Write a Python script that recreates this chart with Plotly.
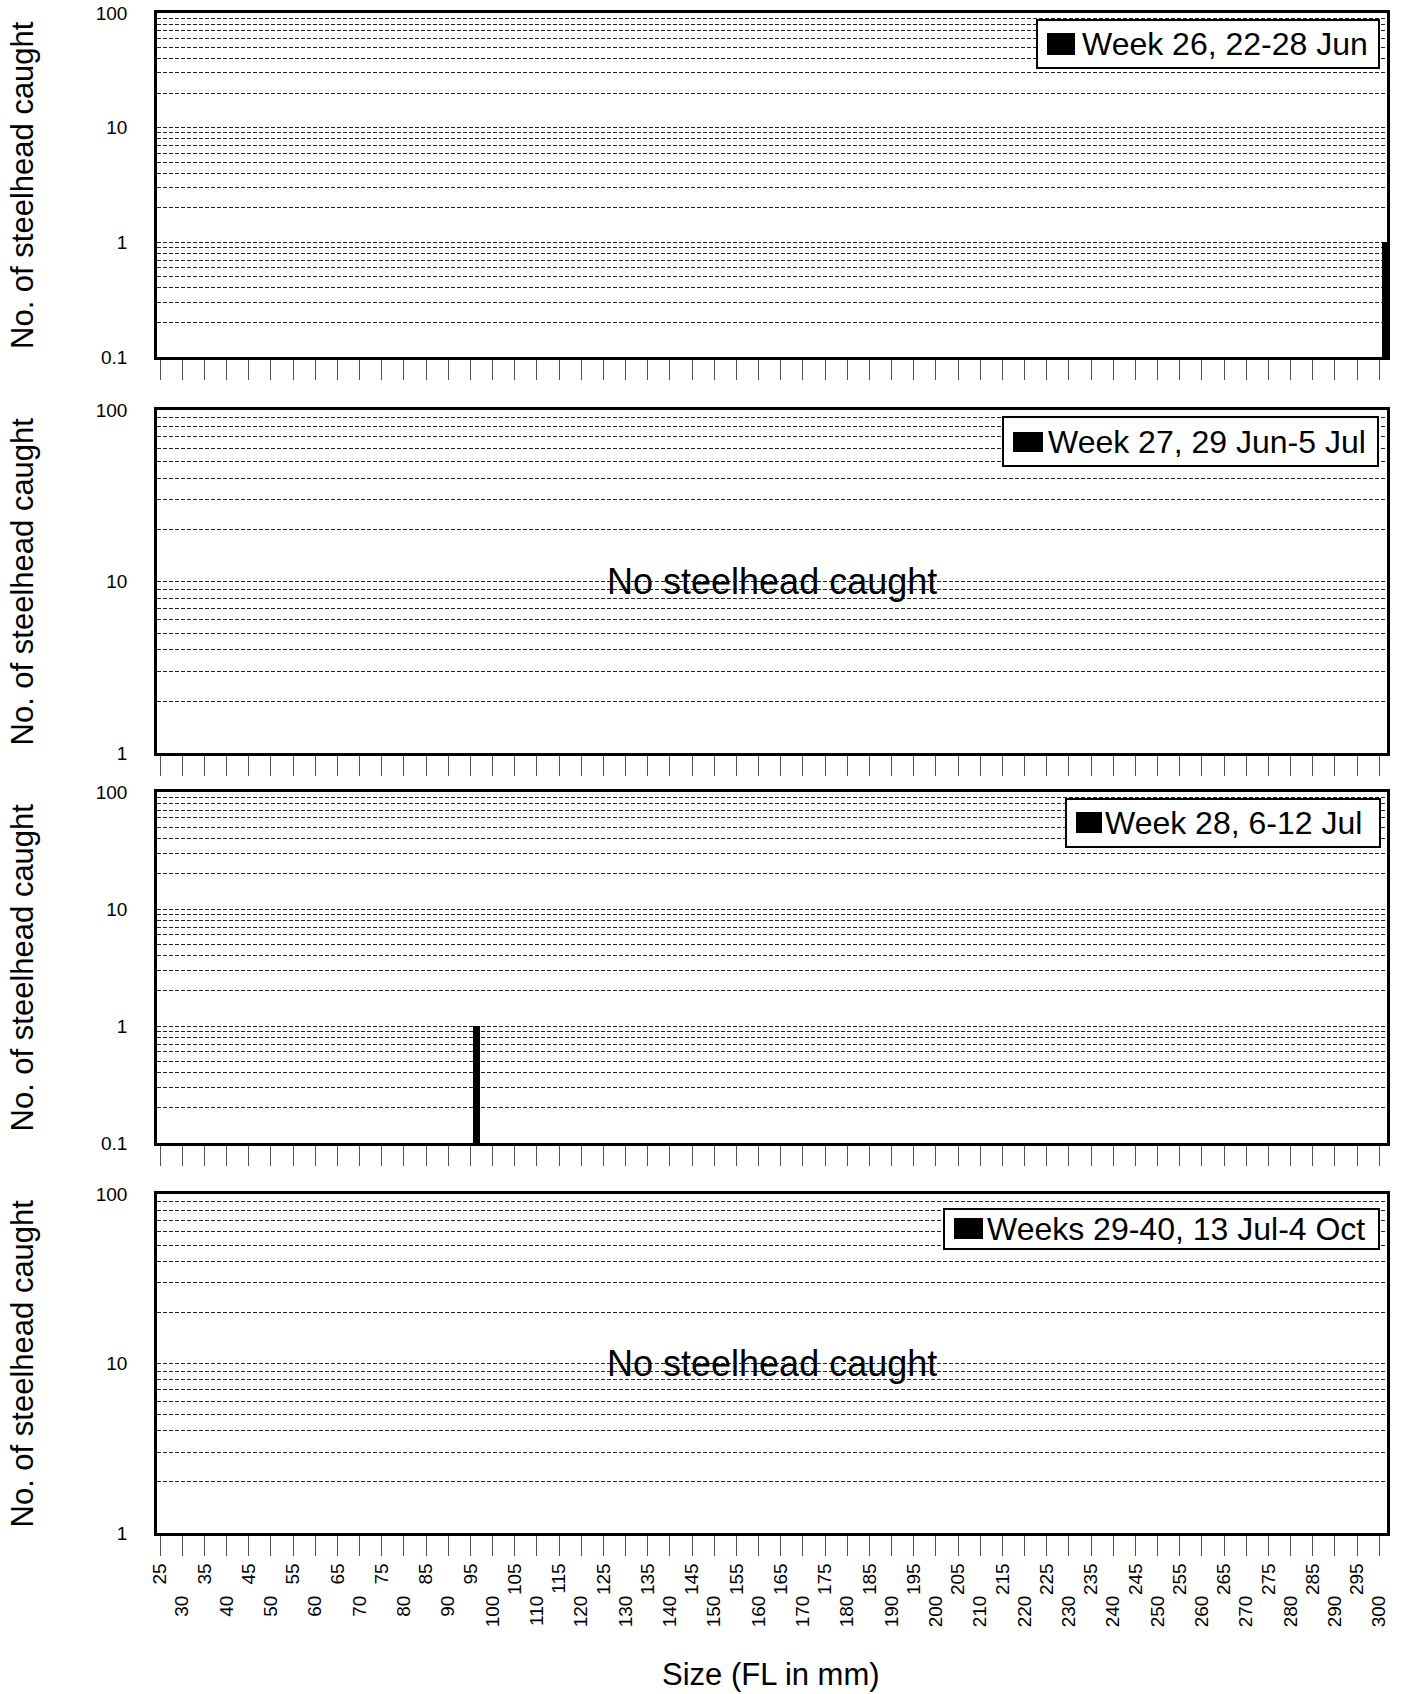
import plotly.graph_objects as go

# ---------------- data ----------------
size_bins = [25, 30, 35, 40, 45, 50, 55, 60, 65, 70, 75, 80, 85, 90, 95, 100,
             105, 110, 115, 120, 125, 130, 135, 140, 145, 150, 155, 160, 165,
             170, 175, 180, 185, 190, 195, 200, 205, 210, 215, 220, 225, 230,
             235, 240, 245, 250, 255, 260, 265, 270, 275, 280, 285, 290, 295, 300]

panel_names = ["Week 26, 22-28 Jun", "Week 27, 29 Jun-5 Jul",
               "Week 28, 6-12 Jul", "Weeks 29-40, 13 Jul-4 Oct"]

week26_size = [300]
week26_count = [1]
week27_size = []
week27_count = []
week28_size = [95]
week28_count = [1]
weeks29_40_size = []
weeks29_40_count = []

y_ranges = [[-1, 2], [0, 2], [-1, 2], [0, 2]]   # log10
y_major = [[0.1, 1, 10, 100], [1, 10, 100], [0.1, 1, 10, 100], [1, 10, 100]]
y_major_text = [["0.1", "1", "10", "100"], ["1", "10", "100"],
                ["0.1", "1", "10", "100"], ["1", "10", "100"]]
empty_note = "No steelhead caught"
x_title = "Size (FL in mm)"
y_title = "No. of steelhead caught"

# ---------------- layout geometry (pixels) ----------------
W, H = 1401, 1694
ML, MR, MT, MB = 157, 14, 13, 161
PW, PH = W - ML - MR, H - MT - MB


def px_x(x):
    return (x - ML) / PW


def px_y(y):
    return (H - MB - y) / PH


panel_px = [(13, 357), (410, 753), (792, 1143), (1194, 1533)]
legend_px = [
    # box(x0,y0,x1,y1), swatch(x0,y0,x1,y1), text x, text center y
    ((1037, 20, 1379, 68), (1047, 33, 1075, 55), 1080, 44),
    ((1003, 417, 1378, 466), (1013, 432, 1043, 452), 1046, 442),
    ((1066, 799, 1380, 847), (1076, 812, 1102, 833), 1103, 823),
    ((944, 1209, 1379, 1249), (954, 1218, 983, 1239), 985, 1229),
]

FONT = "Arial, 'Liberation Sans', sans-serif"
GRID = "#222"
DASH = "4px,2px"
x_range = [24.32, 301.73]

series = [(week26_size, week26_count), (week27_size, week27_count),
          (week28_size, week28_count), (weeks29_40_size, weeks29_40_count)]

fig = go.Figure()
for i, (xs, ys) in enumerate(series):
    sfx = "" if i == 0 else str(i + 1)
    fig.add_trace(go.Bar(
        x=xs, y=ys, name=panel_names[i],
        xaxis="x" + sfx, yaxis="y" + sfx,
        marker=dict(color="black", line=dict(width=0)),
        width=1.6, offset=0.6, showlegend=False,
    ))

# empty helper trace so the second row of size labels is drawn
fig.add_trace(go.Scatter(x=[], y=[], xaxis="x5", yaxis="y4",
                         showlegend=False, hoverinfo="skip"))

layout = dict(
    width=W, height=H,
    margin=dict(l=ML, r=MR, t=MT, b=MB, autoexpand=False),
    paper_bgcolor="white", plot_bgcolor="white",
    font=dict(family=FONT, color="black"),
    showlegend=False, bargap=0,
)

shapes = []
annotations = []

for i in range(4):
    sfx = "" if i == 0 else str(i + 1)
    top, bot = panel_px[i]
    dom = [px_y(bot), px_y(top)]
    minor_vals = []
    lo, hi = y_ranges[i]
    for d in range(lo, hi):
        for m in range(2, 10):
            minor_vals.append(m * 10 ** d)
    bottom = i == 3
    layout["xaxis" + sfx] = dict(
        domain=[0, 1], anchor="y" + sfx, range=x_range, type="linear",
        tickvals=size_bins,
        ticktext=[str(v) if k % 2 == 0 else "" for k, v in enumerate(size_bins)],
        showticklabels=bottom, tickangle=-90,
        tickfont=dict(size=19, color="black"),
        ticks="outside", ticklen=20, tickwidth=1, tickcolor="#555",
        showline=True, linewidth=2.5, linecolor="black", mirror=True,
        showgrid=False, zeroline=False, fixedrange=True,
        ticklabelstandoff=0, automargin=False,
    )
    layout["yaxis" + sfx] = dict(
        domain=dom, anchor="x" + sfx, type="log", range=[lo, hi],
        tickvals=y_major[i], ticktext=y_major_text[i],
        tickfont=dict(size=19, color="black"),
        ticks="", ticklabelstandoff=23,
        showline=True, linewidth=2.5, linecolor="black", mirror=True,
        showgrid=True, gridcolor=GRID, gridwidth=1, griddash=DASH,
        minor=dict(tickvals=minor_vals, showgrid=True, gridcolor=GRID,
                   gridwidth=1, griddash=DASH, ticks=""),
        zeroline=False, fixedrange=True, automargin=False,
    )
    # y title
    annotations.append(dict(
        text=y_title, xref="paper", yref="paper",
        x=px_x(22), y=px_y((top + bot) / 2), xanchor="center", yanchor="middle",
        textangle=-90, showarrow=False, font=dict(size=31, family=FONT, color="black"),
    ))
    # legend box
    (bx0, by0, bx1, by1), (sx0, sy0, sx1, sy1), tx, ty = legend_px[i]
    shapes.append(dict(type="rect", xref="paper", yref="paper",
                       x0=px_x(bx0), x1=px_x(bx1), y0=px_y(by1), y1=px_y(by0),
                       fillcolor="white", line=dict(color="black", width=2), layer="above"))
    shapes.append(dict(type="rect", xref="paper", yref="paper",
                       x0=px_x(sx0), x1=px_x(sx1), y0=px_y(sy1), y1=px_y(sy0),
                       fillcolor="black", line=dict(width=0), layer="above"))
    annotations.append(dict(
        text=panel_names[i], xref="paper", yref="paper",
        x=px_x(tx), y=px_y(ty), xanchor="left", yanchor="middle",
        showarrow=False, font=dict(size=32, family=FONT, color="black"),
    ))
    if len(series[i][0]) == 0:
        annotations.append(dict(
            text=empty_note, xref="x%s domain" % sfx, yref="y%s domain" % sfx,
            x=0.5, y=0.5, xanchor="center", yanchor="middle", showarrow=False,
            font=dict(size=36, family=FONT, color="black"),
        ))

# second (staggered) row of tick labels on the bottom panel
layout["xaxis5"] = dict(
    overlaying="x4", anchor="y4", side="bottom", range=x_range, type="linear",
    tickvals=[v for k, v in enumerate(size_bins) if k % 2 == 1],
    ticktext=[str(v) for k, v in enumerate(size_bins) if k % 2 == 1],
    tickangle=-90, tickfont=dict(size=19, color="black"),
    ticks="outside", ticklen=20, tickcolor="rgba(0,0,0,0)",
    ticklabelstandoff=34,
    showline=False, showgrid=False, zeroline=False, fixedrange=True,
    automargin=False,
)

annotations.append(dict(
    text=x_title, xref="paper", yref="paper",
    x=px_x(771), y=px_y(1675), xanchor="center", yanchor="middle",
    showarrow=False, font=dict(size=31, family=FONT, color="black"),
))

layout["shapes"] = shapes
layout["annotations"] = annotations
fig.update_layout(**layout)

fig.write_html("out.html",
               config={"displayModeBar": False},
               post_script="document.body.style.margin='0';document.body.style.padding='0';")
